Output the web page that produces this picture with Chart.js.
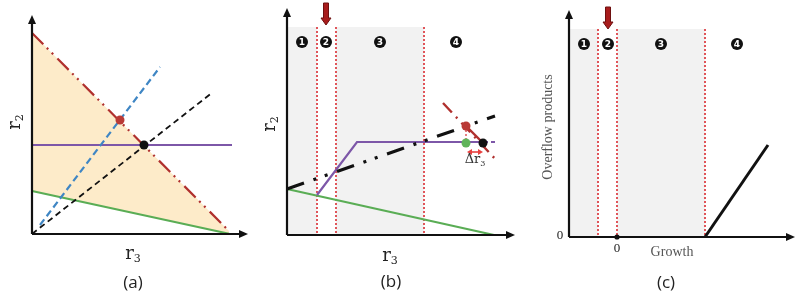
<!DOCTYPE html>
<html>
<head>
<meta charset="utf-8">
<script src="https://cdn.jsdelivr.net/npm/chart.js@4.4.1/dist/chart.umd.min.js"></script>
<style>
    body { margin: 0; background: #fff; width: 808px; height: 299px; overflow: hidden; position: relative; }
    canvas { position: absolute; top: 0; }
</style>
</head>
<body>
<canvas id="pa" width="255" height="299" style="left:0px"></canvas>
<canvas id="pb" width="285" height="299" style="left:255px"></canvas>
<canvas id="pc" width="268" height="299" style="left:540px"></canvas>
<script>
// panel (a) - axis units, origin at 0,0
const aAxis = [216, 219];
const aRed = [[0, 201], [197, 3]];
const aGreen = [[0, 43], [197, 0.2]];
const aBlue = [[8, 9], [128, 167]];
const aBlack = [[0, 0], [181, 142]];
const aPurple = [[0, 89], [200, 89]];
const aRedDot = [[88, 114]];
const aBlackDot = [[112, 89]];

// panel (b)
const bAxis = [228, 227];
const bBounds = [0, 30, 49, 137];
const bShadeTop = 208;
const bRegionX = [15, 39, 93, 169];
const bRegionY = 193;
const bArrow = [39, 232, 210];
const bBlack = [[0, 46], [208, 119]];
const bPurple = [[30, 40], [70, 93], [196, 93]];
const bPurpleDash = [[196, 93], [208, 93]];
const bGreen = [[0, 46], [207, 0]];
const bRed = [[156, 132], [211, 73]];
const bRedSolid = [[179, 109], [196, 92]];
const bDrop = [[179, 109], [179, 92]];
const bRedDot = [[179, 109]];
const bGreenDot = [[179, 92]];
const bBlackDot = [[196, 92]];
const bDelta = [[180, 83], [196, 83]];

// panel (c)
const cAxis = [226, 227];
const cBounds = [0, 29, 48, 136];
const cShadeTop = 208;
const cRegionX = [15, 39, 92, 168];
const cRegionY = 193;
const cArrow = [39, 230, 208];
const cOverflow = [[136, 0], [199, 92]];
const cZeroTick = [[48, 0]];

const regionNames = ['1', '2', '3', '4'];

function pts(arr) {
    return arr.map(function(p) { return { x: p[0], y: p[1] }; });
}

function line(arr, color, width, dash) {
    return {
        data: pts(arr), borderColor: color, borderWidth: width, borderDash: dash || [],
        borderCapStyle: 'butt', pointRadius: 0, showLine: true, fill: false, clip: false, tension: 0
    };
}

function dots(arr, color, r) {
    return {
        data: pts(arr), backgroundColor: color, borderWidth: 0, pointRadius: r,
        showLine: false, fill: false, clip: false
    };
}

function arrowHead(ctx, x, y, dx, dy, len, half) {
    ctx.beginPath();
    ctx.moveTo(x, y);
    ctx.lineTo(x - dx * len - dy * half, y - dy * len + dx * half);
    ctx.lineTo(x - dx * len + dy * half, y - dy * len - dx * half);
    ctx.closePath();
    ctx.fill();
}

function label(ctx, t, px, py, font, color, rot) {
    ctx.save();
    ctx.translate(px, py);
    if (rot) ctx.rotate(-Math.PI / 2);
    ctx.font = font;
    ctx.fillStyle = color;
    ctx.textAlign = 'center';
    ctx.textBaseline = 'middle';
    ctx.fillText(t, 0, 0);
    ctx.restore();
}

function subLabel(ctx, main, sub, px, py, size, color, rot) {
    ctx.save();
    ctx.translate(px, py);
    if (rot) ctx.rotate(-Math.PI / 2);
    ctx.fillStyle = color;
    ctx.textBaseline = 'middle';
    ctx.font = size + 'px "DejaVu Serif"';
    const w1 = ctx.measureText(main).width;
    ctx.font = Math.round(size * 0.62) + 'px "DejaVu Serif"';
    const w2 = ctx.measureText(sub).width;
    const x0 = -(w1 + w2) / 2;
    ctx.font = size + 'px "DejaVu Serif"';
    ctx.textAlign = 'left';
    ctx.fillText(main, x0, 0);
    ctx.font = Math.round(size * 0.62) + 'px "DejaVu Serif"';
    ctx.fillText(sub, x0 + w1, size * 0.3);
    ctx.restore();
}

const sketch = {
    id: 'sketch',
    beforeDatasetsDraw(chart, args, o) {
        const ctx = chart.ctx, x = chart.scales.x, y = chart.scales.y;
        const y0 = y.getPixelForValue(0);
        if (!o.bounds) return;
        ctx.save();
        const t = y.getPixelForValue(o.top);
        ctx.fillStyle = '#f2f2f2';
        [[0, 1], [2, 3]].forEach(function(ij) {
            const l = x.getPixelForValue(o.bounds[ij[0]]), r = x.getPixelForValue(o.bounds[ij[1]]);
            ctx.fillRect(l, t, r - l, y0 - t);
        });
        ctx.strokeStyle = '#e0555a';
        ctx.lineWidth = 2;
        ctx.setLineDash([2, 2]);
        o.bounds.slice(1).forEach(function(v) {
            const px = Math.round(x.getPixelForValue(v));
            ctx.beginPath();
            ctx.moveTo(px, t);
            ctx.lineTo(px, y0);
            ctx.stroke();
        });
        ctx.restore();
    },
    afterDatasetsDraw(chart, args, o) {
        const ctx = chart.ctx, x = chart.scales.x, y = chart.scales.y;
        ctx.save();
        // axes with arrow heads
        const x0 = x.getPixelForValue(0), y0 = y.getPixelForValue(0);
        const xe = x.getPixelForValue(x.max), ye = y.getPixelForValue(y.max);
        ctx.strokeStyle = '#111';
        ctx.fillStyle = '#111';
        ctx.lineWidth = 2.2;
        ctx.beginPath();
        ctx.moveTo(x0, y0);
        ctx.lineTo(xe - 5, y0);
        ctx.moveTo(x0, y0);
        ctx.lineTo(x0, ye + 5);
        ctx.stroke();
        arrowHead(ctx, xe, y0, 1, 0, 9, 4);
        arrowHead(ctx, x0, ye, 0, -1, 9, 4);

        if (o.regionX) {
            o.regionX.forEach(function(v, i) {
                const px = x.getPixelForValue(v), py = y.getPixelForValue(o.regionY);
                ctx.fillStyle = '#111';
                ctx.beginPath();
                ctx.arc(px, py, 6, 0, Math.PI * 2);
                ctx.fill();
                label(ctx, regionNames[i], px, py + 0.5, 'bold 9px "DejaVu Sans"', '#fff');
            });
        }
        if (o.arrow) {
            const px = x.getPixelForValue(o.arrow[0]);
            const ys = y.getPixelForValue(o.arrow[1]), yt = y.getPixelForValue(o.arrow[2]);
            ctx.fillStyle = '#a81c1c';
            ctx.strokeStyle = '#6e1010';
            ctx.lineWidth = 1;
            ctx.beginPath();
            ctx.moveTo(px - 2.5, ys);
            ctx.lineTo(px + 2.5, ys);
            ctx.lineTo(px + 2.5, yt - 7);
            ctx.lineTo(px + 5, yt - 7);
            ctx.lineTo(px, yt);
            ctx.lineTo(px - 5, yt - 7);
            ctx.lineTo(px - 2.5, yt - 7);
            ctx.closePath();
            ctx.fill();
            ctx.stroke();
        }
        if (o.delta) {
            const xa = x.getPixelForValue(o.delta[0][0]), xb = x.getPixelForValue(o.delta[1][0]);
            const py = y.getPixelForValue(o.delta[0][1]);
            ctx.strokeStyle = '#e8403f';
            ctx.fillStyle = '#e8403f';
            ctx.lineWidth = 1.6;
            ctx.beginPath();
            ctx.moveTo(xa + 3, py);
            ctx.lineTo(xb - 3, py);
            ctx.stroke();
            arrowHead(ctx, xa, py, -1, 0, 5, 3);
            arrowHead(ctx, xb, py, 1, 0, 5, 3);
        }
        (o.labels || []).forEach(function(l) {
            if (l.sub) subLabel(ctx, l.t, l.sub, l.x, l.y, l.size, l.color || '#222', l.rot);
            else label(ctx, l.t, l.x, l.y, l.font, l.color || '#222', l.rot);
        });
        ctx.restore();
    }
};

function makeChart(id, datasets, axis, pad, extra) {
    return new Chart(document.getElementById(id), {
        type: 'line',
        data: { datasets: datasets },
        options: {
            responsive: false,
            animation: false,
            events: [],
            layout: { padding: pad },
            scales: {
                x: { type: 'linear', display: false, min: 0, max: axis[0] },
                y: { type: 'linear', display: false, min: 0, max: axis[1] }
            },
            plugins: { legend: { display: false }, tooltip: { enabled: false }, sketch: extra }
        },
        plugins: [sketch]
    });
}

// datasets listed top-most first (Chart.js paints the last one first)

// (a)
const aFill = line(aRed, '#b0302e', 2.2, [16, 5, 2, 5, 2, 6]);
aFill.fill = { target: 5 };
aFill.backgroundColor = '#fdebc9';
makeChart('pa', [
    dots(aRedDot, '#b93a36', 4.5),
    dots(aBlackDot, '#111', 4.5),
    line(aBlack, '#111', 1.8, [6, 4]),
    line(aBlue, '#3f86c4', 2.2, [7, 4]),
    line(aPurple, '#7d57a8', 2.2),
    line(aGreen, '#5aad55', 2.2),
    aFill
], aAxis, { left: 32, top: 15, right: 7, bottom: 65 }, {
    labels: [
        { t: 'r', sub: '2', x: 15, y: 122, size: 18, rot: true },
        { t: 'r', sub: '3', x: 133, y: 254, size: 18 },
        { t: '(a)', x: 133, y: 283, font: '17px "Open Sans"' }
    ]
});

// (b)
makeChart('pb', [
    dots(bRedDot, '#b93a36', 4.5),
    dots(bGreenDot, '#5fb45a', 4.5),
    dots(bBlackDot, '#111', 4.5),
    line(bDrop, '#e0555a', 1.5, [2, 2]),
    line(bRedSolid, '#b0302e', 2.4),
    line(bRed, '#b0302e', 2.4, [13, 6, 2, 6]),
    line(bBlack, '#111', 3.2, [18, 10, 3, 9, 3, 10]),
    line(bPurpleDash, '#7d57a8', 2.2, [5, 3]),
    line(bPurple, '#7d57a8', 2.2),
    line(bGreen, '#5aad55', 2.2)
], bAxis, { left: 32, top: 8, right: 25, bottom: 64 }, {
    bounds: bBounds, top: bShadeTop, regionX: bRegionX, regionY: bRegionY, arrow: bArrow, delta: bDelta,
    labels: [
        { t: 'r', sub: '2', x: 15, y: 124, size: 18, rot: true },
        { t: 'r', sub: '3', x: 135, y: 256, size: 18 },
        { t: 'Δr', sub: '3', x: 220, y: 160, size: 13, color: '#333' },
        { t: '(b)', x: 136, y: 282, font: '17px "Open Sans"' }
    ]
});

// (c)
makeChart('pc', [
    dots(cZeroTick, '#111', 2.6),
    line(cOverflow, '#111', 3)
], cAxis, { left: 29, top: 10, right: 13, bottom: 62 }, {
    bounds: cBounds, top: cShadeTop, regionX: cRegionX, regionY: cRegionY, arrow: cArrow,
    labels: [
        { t: 'Overflow products', x: 8, y: 127, font: '14px "Liberation Serif"', color: '#555', rot: true },
        { t: 'Growth', x: 132, y: 252, font: '14px "Liberation Serif"', color: '#555' },
        { t: '0', x: 20, y: 236, font: '13px "Liberation Serif"' },
        { t: '0', x: 77, y: 249, font: '13px "Liberation Serif"' },
        { t: '(c)', x: 126, y: 283, font: '17px "Open Sans"' }
    ]
});
</script>
</body>
</html>
